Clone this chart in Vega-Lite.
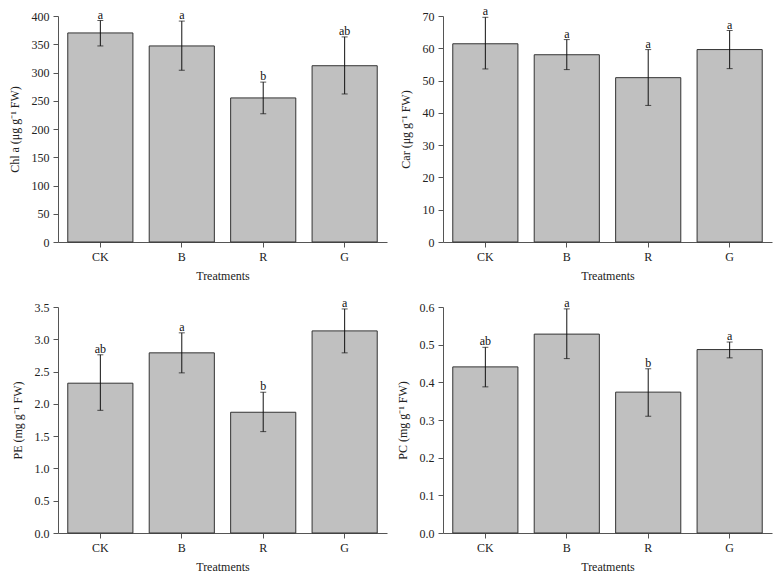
{
  "$schema": "https://vega.github.io/schema/vega-lite/v6.json",
  "padding": {"left": 8, "top": 5, "right": 5, "bottom": 5},
  "background": "white",
  "datasets": {
    "t": [
      {"panel": "Chl", "treatment": "CK", "mean": 370, "lo": 347, "hi": 392, "letter": "a"},
      {"panel": "Chl", "treatment": "B", "mean": 347, "lo": 304, "hi": 391, "letter": "a"},
      {"panel": "Chl", "treatment": "R", "mean": 255, "lo": 227, "hi": 283, "letter": "b"},
      {"panel": "Chl", "treatment": "G", "mean": 312, "lo": 262, "hi": 363, "letter": "ab"},
      {"panel": "Car", "treatment": "CK", "mean": 61.4, "lo": 53.6, "hi": 69.6, "letter": "a"},
      {"panel": "Car", "treatment": "B", "mean": 58.0, "lo": 53.4, "hi": 62.7, "letter": "a"},
      {"panel": "Car", "treatment": "R", "mean": 50.9, "lo": 42.3, "hi": 59.6, "letter": "a"},
      {"panel": "Car", "treatment": "G", "mean": 59.6, "lo": 53.7, "hi": 65.5, "letter": "a"},
      {"panel": "PE", "treatment": "CK", "mean": 2.32, "lo": 1.9, "hi": 2.76, "letter": "ab"},
      {"panel": "PE", "treatment": "B", "mean": 2.79, "lo": 2.48, "hi": 3.1, "letter": "a"},
      {"panel": "PE", "treatment": "R", "mean": 1.87, "lo": 1.57, "hi": 2.18, "letter": "b"},
      {"panel": "PE", "treatment": "G", "mean": 3.13, "lo": 2.79, "hi": 3.47, "letter": "a"},
      {"panel": "PC", "treatment": "CK", "mean": 0.441, "lo": 0.388, "hi": 0.493, "letter": "ab"},
      {"panel": "PC", "treatment": "B", "mean": 0.528, "lo": 0.463, "hi": 0.595, "letter": "a"},
      {"panel": "PC", "treatment": "R", "mean": 0.374, "lo": 0.31, "hi": 0.436, "letter": "b"},
      {"panel": "PC", "treatment": "G", "mean": 0.487, "lo": 0.465, "hi": 0.507, "letter": "a"}
    ]
  },
  "columns": 2,
  "spacing": {"row": 65, "column": 56},
  "bounds": "flush",
  "concat": [
    {
      "width": 329, "height": 226,
      "data": {"name": "t"},
      "transform": [{"filter": "datum.panel === 'Chl'"}],
      "encoding": {"x": {"field": "treatment", "type": "nominal", "sort": ["CK", "B", "R", "G"], "scale": {"paddingInner": 0.2, "paddingOuter": 0.12}, "axis": {"title": "Treatments", "labelAngle": 0}}},
      "layer": [
        {"mark": {"type": "bar", "fill": "#c0c0c0", "stroke": "#333333", "strokeWidth": 1}, "encoding": {"y": {"field": "mean", "type": "quantitative", "title": "Chl a (μg g⁻¹ FW)", "scale": {"domain": [0, 400], "nice": false}, "axis": {"values": [0, 50, 100, 150, 200, 250, 300, 350, 400], "labelOverlap": false}}}},
        {"mark": {"type": "rule", "color": "#111111"}, "encoding": {"y": {"field": "lo", "type": "quantitative", "title": "Chl a (μg g⁻¹ FW)", "axis": {"values": [0, 50, 100, 150, 200, 250, 300, 350, 400], "labelOverlap": false}}, "y2": {"field": "hi"}}},
        {"mark": {"type": "tick", "size": 6, "thickness": 1, "color": "#111111"}, "encoding": {"y": {"field": "lo", "type": "quantitative", "title": "Chl a (μg g⁻¹ FW)", "axis": {"values": [0, 50, 100, 150, 200, 250, 300, 350, 400], "labelOverlap": false}}}},
        {"mark": {"type": "tick", "size": 6, "thickness": 1, "color": "#111111"}, "encoding": {"y": {"field": "hi", "type": "quantitative", "title": "Chl a (μg g⁻¹ FW)", "axis": {"values": [0, 50, 100, 150, 200, 250, 300, 350, 400], "labelOverlap": false}}}},
        {"mark": {"type": "text", "baseline": "alphabetic", "dy": -2, "font": "Liberation Serif", "fontSize": 12, "fill": "#111111"}, "encoding": {"y": {"field": "hi", "type": "quantitative", "title": "Chl a (μg g⁻¹ FW)", "axis": {"values": [0, 50, 100, 150, 200, 250, 300, 350, 400], "labelOverlap": false}}, "text": {"field": "letter"}}}
      ]
    },
    {
      "width": 329, "height": 226,
      "data": {"name": "t"},
      "transform": [{"filter": "datum.panel === 'Car'"}],
      "encoding": {"x": {"field": "treatment", "type": "nominal", "sort": ["CK", "B", "R", "G"], "scale": {"paddingInner": 0.2, "paddingOuter": 0.12}, "axis": {"title": "Treatments", "labelAngle": 0}}},
      "layer": [
        {"mark": {"type": "bar", "fill": "#c0c0c0", "stroke": "#333333", "strokeWidth": 1}, "encoding": {"y": {"field": "mean", "type": "quantitative", "title": "Car (μg g⁻¹ FW)", "scale": {"domain": [0, 70], "nice": false}, "axis": {"values": [0, 10, 20, 30, 40, 50, 60, 70], "labelOverlap": false}}}},
        {"mark": {"type": "rule", "color": "#111111"}, "encoding": {"y": {"field": "lo", "type": "quantitative", "title": "Car (μg g⁻¹ FW)", "axis": {"values": [0, 10, 20, 30, 40, 50, 60, 70], "labelOverlap": false}}, "y2": {"field": "hi"}}},
        {"mark": {"type": "tick", "size": 6, "thickness": 1, "color": "#111111"}, "encoding": {"y": {"field": "lo", "type": "quantitative", "title": "Car (μg g⁻¹ FW)", "axis": {"values": [0, 10, 20, 30, 40, 50, 60, 70], "labelOverlap": false}}}},
        {"mark": {"type": "tick", "size": 6, "thickness": 1, "color": "#111111"}, "encoding": {"y": {"field": "hi", "type": "quantitative", "title": "Car (μg g⁻¹ FW)", "axis": {"values": [0, 10, 20, 30, 40, 50, 60, 70], "labelOverlap": false}}}},
        {"mark": {"type": "text", "baseline": "alphabetic", "dy": -2, "font": "Liberation Serif", "fontSize": 12, "fill": "#111111"}, "encoding": {"y": {"field": "hi", "type": "quantitative", "title": "Car (μg g⁻¹ FW)", "axis": {"values": [0, 10, 20, 30, 40, 50, 60, 70], "labelOverlap": false}}, "text": {"field": "letter"}}}
      ]
    },
    {
      "width": 329, "height": 226,
      "data": {"name": "t"},
      "transform": [{"filter": "datum.panel === 'PE'"}],
      "encoding": {"x": {"field": "treatment", "type": "nominal", "sort": ["CK", "B", "R", "G"], "scale": {"paddingInner": 0.2, "paddingOuter": 0.12}, "axis": {"title": "Treatments", "labelAngle": 0}}},
      "layer": [
        {"mark": {"type": "bar", "fill": "#c0c0c0", "stroke": "#333333", "strokeWidth": 1}, "encoding": {"y": {"field": "mean", "type": "quantitative", "title": "PE (mg g⁻¹ FW)", "scale": {"domain": [0, 3.5], "nice": false}, "axis": {"values": [0, 0.5, 1, 1.5, 2, 2.5, 3, 3.5], "format": ".1f", "labelOverlap": false}}}},
        {"mark": {"type": "rule", "color": "#111111"}, "encoding": {"y": {"field": "lo", "type": "quantitative", "title": "PE (mg g⁻¹ FW)", "axis": {"values": [0, 0.5, 1, 1.5, 2, 2.5, 3, 3.5], "format": ".1f", "labelOverlap": false}}, "y2": {"field": "hi"}}},
        {"mark": {"type": "tick", "size": 6, "thickness": 1, "color": "#111111"}, "encoding": {"y": {"field": "lo", "type": "quantitative", "title": "PE (mg g⁻¹ FW)", "axis": {"values": [0, 0.5, 1, 1.5, 2, 2.5, 3, 3.5], "format": ".1f", "labelOverlap": false}}}},
        {"mark": {"type": "tick", "size": 6, "thickness": 1, "color": "#111111"}, "encoding": {"y": {"field": "hi", "type": "quantitative", "title": "PE (mg g⁻¹ FW)", "axis": {"values": [0, 0.5, 1, 1.5, 2, 2.5, 3, 3.5], "format": ".1f", "labelOverlap": false}}}},
        {"mark": {"type": "text", "baseline": "alphabetic", "dy": -2, "font": "Liberation Serif", "fontSize": 12, "fill": "#111111"}, "encoding": {"y": {"field": "hi", "type": "quantitative", "title": "PE (mg g⁻¹ FW)", "axis": {"values": [0, 0.5, 1, 1.5, 2, 2.5, 3, 3.5], "format": ".1f", "labelOverlap": false}}, "text": {"field": "letter"}}}
      ]
    },
    {
      "width": 329, "height": 226,
      "data": {"name": "t"},
      "transform": [{"filter": "datum.panel === 'PC'"}],
      "encoding": {"x": {"field": "treatment", "type": "nominal", "sort": ["CK", "B", "R", "G"], "scale": {"paddingInner": 0.2, "paddingOuter": 0.12}, "axis": {"title": "Treatments", "labelAngle": 0}}},
      "layer": [
        {"mark": {"type": "bar", "fill": "#c0c0c0", "stroke": "#333333", "strokeWidth": 1}, "encoding": {"y": {"field": "mean", "type": "quantitative", "title": "PC (mg g⁻¹ FW)", "scale": {"domain": [0, 0.6], "nice": false}, "axis": {"values": [0, 0.1, 0.2, 0.3, 0.4, 0.5, 0.6], "format": ".1f", "labelOverlap": false}}}},
        {"mark": {"type": "rule", "color": "#111111"}, "encoding": {"y": {"field": "lo", "type": "quantitative", "title": "PC (mg g⁻¹ FW)", "axis": {"values": [0, 0.1, 0.2, 0.3, 0.4, 0.5, 0.6], "format": ".1f", "labelOverlap": false}}, "y2": {"field": "hi"}}},
        {"mark": {"type": "tick", "size": 6, "thickness": 1, "color": "#111111"}, "encoding": {"y": {"field": "lo", "type": "quantitative", "title": "PC (mg g⁻¹ FW)", "axis": {"values": [0, 0.1, 0.2, 0.3, 0.4, 0.5, 0.6], "format": ".1f", "labelOverlap": false}}}},
        {"mark": {"type": "tick", "size": 6, "thickness": 1, "color": "#111111"}, "encoding": {"y": {"field": "hi", "type": "quantitative", "title": "PC (mg g⁻¹ FW)", "axis": {"values": [0, 0.1, 0.2, 0.3, 0.4, 0.5, 0.6], "format": ".1f", "labelOverlap": false}}}},
        {"mark": {"type": "text", "baseline": "alphabetic", "dy": -2, "font": "Liberation Serif", "fontSize": 12, "fill": "#111111"}, "encoding": {"y": {"field": "hi", "type": "quantitative", "title": "PC (mg g⁻¹ FW)", "axis": {"values": [0, 0.1, 0.2, 0.3, 0.4, 0.5, 0.6], "format": ".1f", "labelOverlap": false}}, "text": {"field": "letter"}}}
      ]
    }
  ],
  "config": {
    "view": {"stroke": null},
    "font": "Liberation Serif",
    "axis": {
      "grid": false,
      "labelFont": "Liberation Serif",
      "titleFont": "Liberation Serif",
      "labelFontSize": 12,
      "titleFontSize": 12,
      "titleFontWeight": "normal",
      "labelColor": "#222222",
      "titleColor": "#222222",
      "domainColor": "#555555",
      "tickColor": "#555555",
      "tickSize": 5,
      "labelPadding": 4
    },
    "axisY": {"titlePadding": 10},
    "axisX": {"titlePadding": 8}
  }
}
